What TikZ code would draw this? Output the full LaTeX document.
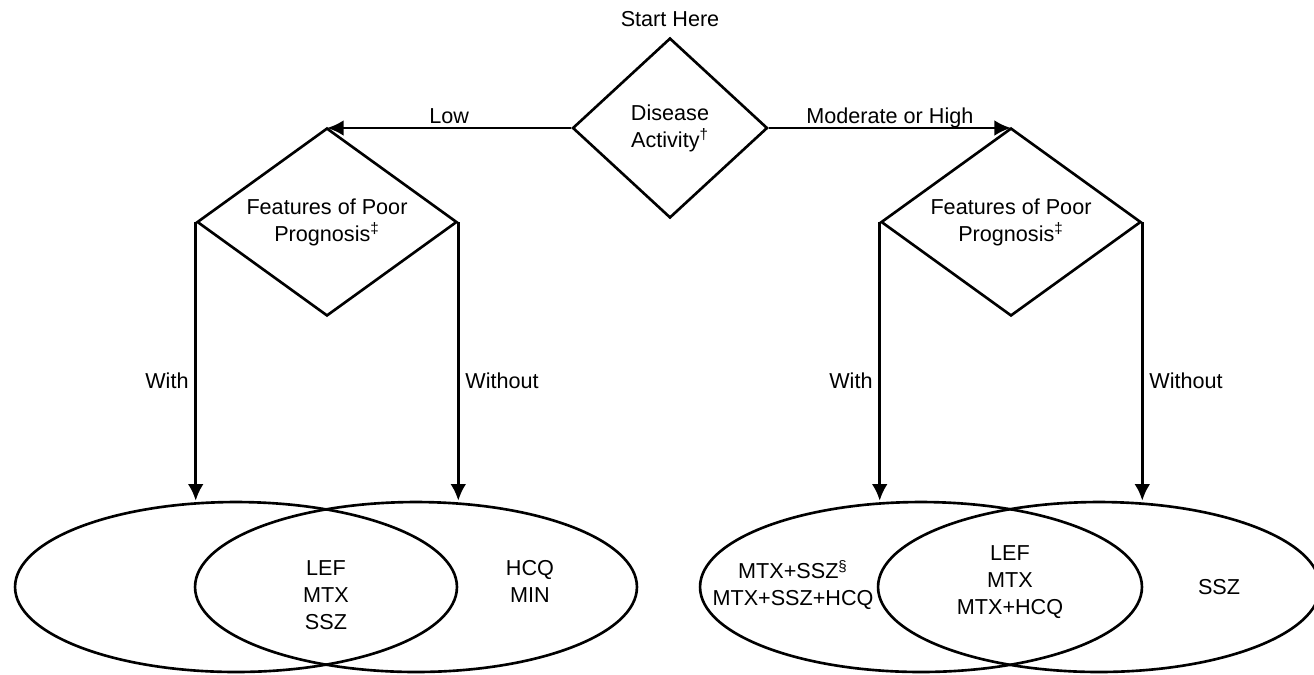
\documentclass[tikz,border=0pt]{standalone}
\usepackage{fontspec}
\setmainfont{Liberation Sans}
\usetikzlibrary{positioning,shapes.geometric,arrows.meta}

\begin{document}
\begin{tikzpicture}[
            x=0.02cm, y=-0.02cm,
            every node/.append style = {font=\fontsize{12.3pt}{15.3pt}\selectfont, align=center},
            decision/.style = {draw, diamond, line width=1.5pt, inner sep=0pt, shape aspect=1.4},
            group/.style = {draw, ellipse, line width=1.5pt, minimum width=8.84cm, minimum height=3.4cm},
            flow/.style = {line width=1.5pt, -{Latex[length=9.5pt,width=9pt]}}]
            \useasboundingbox (0,0) rectangle (1314,674);
            % decisions
            \node[decision, minimum width=3.9cm, minimum height=3.6cm] (activity) at (670,128) {Disease\\Activity\textsuperscript{†}};
            \node[above=2pt of activity] (start) {Start Here};
            \node[decision, minimum width=5.2cm, minimum height=3.76cm] (poorlow) at (327,222) {Features of Poor\\Prognosis\textsuperscript{‡}};
            \node[decision, minimum width=5.2cm, minimum height=3.76cm] (poorhigh) at (1011,222) {Features of Poor\\Prognosis\textsuperscript{‡}};
            % treatment groups
            \node[group] (lowwith) at (236,587) {};
            \node[group] (lowwithout) at (416,587) {};
            \node[group] (highwith) at (921,587) {};
            \node[group] (highwithout) at (1099,587) {};
            \node (lowboth) at (326,595) {LEF\\MTX\\SSZ};
            \node (lowonly) at (530,581) {HCQ\\MIN};
            \node (highonly) at (793,585) {MTX+SSZ\textsuperscript{§}\\MTX+SSZ+HCQ};
            \node (highboth) at (1010,582) {LEF\\MTX\\MTX+HCQ};
            \node (highrest) at (1219,587) {SSZ};
            % connectors
            \draw[flow] (activity.west) -- node[above, inner sep=2pt, text depth=0pt] (low) {Low} (activity.west -| poorlow.north);
            \draw[flow] (activity.east) -- node[above, inner sep=2pt, text depth=0pt] (high) {Moderate or High} (activity.east -| poorhigh.north);
            \draw[flow] (poorlow.west) -- node[pos=0.57, left] (lwith) {With} (poorlow.west |- lowwith.north);
            \draw[flow] (poorlow.east) -- node[pos=0.57, right] (lwithout) {Without} (poorlow.east |- lowwithout.north);
            \draw[flow] (poorhigh.west) -- node[pos=0.57, left] (hwith) {With} (poorhigh.west |- highwith.north);
            \draw[flow] (poorhigh.east) -- node[pos=0.57, right] (hwithout) {Without} (poorhigh.east |- highwithout.north);
\end{tikzpicture}
\end{document}
